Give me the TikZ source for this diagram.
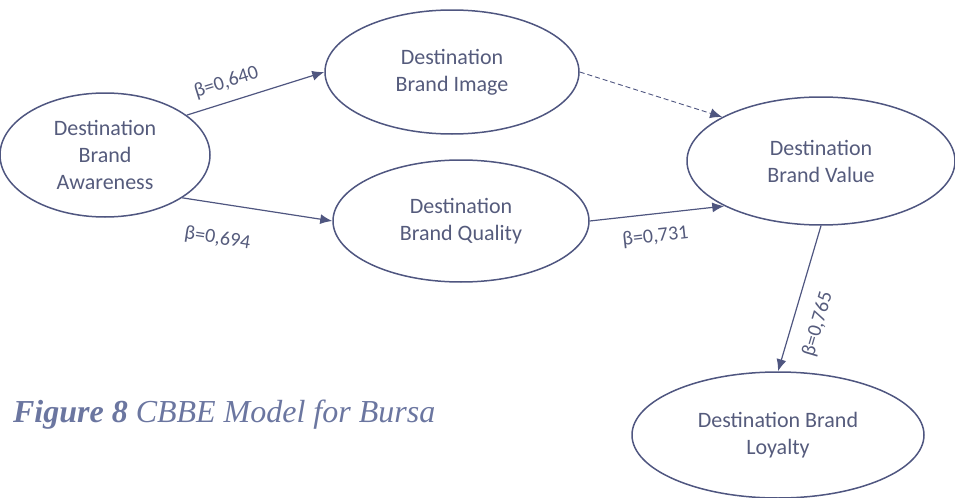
\documentclass[tikz,border=0pt]{standalone}
\usepackage{fontspec}
\setmainfont{Carlito}
\newfontfamily\capfont{Liberation Serif}
\usepackage{tikz}
\usetikzlibrary{shapes.geometric,arrows.meta}
\definecolor{edgeblue}{HTML}{4F5680}
\definecolor{txtblue}{HTML}{555B7C}
\definecolor{capblue}{HTML}{6B76A0}
\tikzset{
  ell/.style  = {ellipse, draw=edgeblue, line width=0.75pt, inner sep=0pt,
                 align=center, text=txtblue, font=\fontsize{11}{13.5}\selectfont},
  fl/.style   = {-{Latex[length=6pt,width=5pt]}, line width=0.6pt, edgeblue},
  fld/.style  = {-{Latex[length=6pt,width=5pt]}, line width=0.45pt, edgeblue,
                 dash pattern=on 2.5pt off 1.5pt},
  lbl/.style  = {text=txtblue, font=\fontsize{10}{12}\selectfont, sloped, inner sep=1pt},
}

\begin{document}
\begin{tikzpicture}[x=0.5pt, y=-0.5pt]
  \useasboundingbox (0,0) rectangle (955,498);
  \node[ell, minimum width=105pt, minimum height=62pt] (aw)  at (105,155) {Destination\\ Brand\\ Awareness};
  \node[ell, minimum width=127pt, minimum height=62pt] (img) at (452,72)  {Destination\\ Brand Image};
  \node[ell, minimum width=128pt, minimum height=61pt] (qua) at (461,221) {Destination\\ Brand Quality};
  \node[ell, minimum width=134pt, minimum height=64pt] (val) at (821,161) {Destination\\ Brand Value};
  \node[ell, minimum width=146pt, minimum height=63pt] (loy) at (778,435) {Destination Brand\\ Loyalty};
  \node[anchor=west, text=capblue, font=\capfont\fontsize{16}{19}\selectfont\itshape] (cap) at (6,415)
    {\textbf{Figure 8} CBBE Model for Bursa};
  \draw[fl] (aw.26) -- node[lbl, pos=0.33, above=4pt] {β=0,640} (img.west);
  \draw[fl] (aw.-29) -- node[lbl, pos=0.27, below=12pt] {β=0,694} (qua.west);
  \draw[fld] (img.east) -- (val.156);
  \draw[fl] (qua.east) -- node[lbl, pos=0.47, below=6pt] {β=0,731} (val.205);
  \draw[fl] (val.south) -- node[lbl, pos=0.63, below=7pt] {β=0,765} (loy.north);
\end{tikzpicture}
\end{document}
